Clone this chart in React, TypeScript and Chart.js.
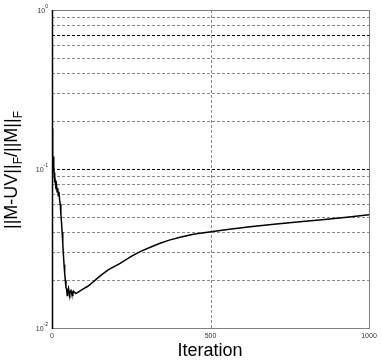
import React, { useEffect, useRef } from "react";
import { Chart, registerables } from "chart.js";

Chart.register(...registerables);

const ITERATIONS = [
  0, 1, 2, 3, 4, 5, 6, 7, 8, 9, 10, 12, 14, 16, 18, 20, 22, 24, 26, 28, 30, 32, 34, 36, 38, 40,
  42, 44, 46, 48, 50, 52, 54, 56, 58, 60, 62, 64, 66, 68, 70, 75, 80, 90, 100, 113, 130, 151,
  177, 215, 250, 278, 310, 341, 370, 404, 450, 502, 560, 625, 700, 782, 860, 930, 1000,
];
const ERRORS = [
  0.18, 0.13, 0.16, 0.11, 0.12, 0.095, 0.105, 0.09, 0.095, 0.082, 0.085, 0.078, 0.08, 0.072,
  0.076, 0.068, 0.072, 0.064, 0.06, 0.052, 0.046, 0.04, 0.034, 0.029, 0.025, 0.022, 0.02, 0.018,
  0.0175, 0.016, 0.0172, 0.0178, 0.0168, 0.0163, 0.017, 0.0172, 0.0165, 0.016, 0.0166, 0.017,
  0.0168, 0.0165, 0.0167, 0.0172, 0.0177, 0.0183, 0.0195, 0.0212, 0.0232, 0.0255, 0.0282,
  0.0302, 0.0322, 0.0341, 0.0357, 0.0372, 0.039, 0.0403, 0.0418, 0.0434, 0.045, 0.0466, 0.0482,
  0.0498, 0.0515,
];
const X_TICKS = [0, 500, 1000];
const Y_EXPONENTS = [0, -1, -2];
const Y_GRID = [
  0.02, 0.03, 0.04, 0.05, 0.06, 0.07, 0.08, 0.09, 0.1, 0.2, 0.3, 0.4, 0.5, 0.6, 0.7, 0.8, 0.9,
];
const Y_DARK = [0.1, 0.7];
const X_GRID = [500];
const X_TITLE = "Iteration";

const FONT = '"Liberation Sans", Arial, sans-serif';

const decor = {
  id: "decor",
  beforeDatasetsDraw(chart: any) {
    const ctx = chart.ctx as CanvasRenderingContext2D;
    const a = chart.chartArea;
    const xs = chart.scales.x;
    const ys = chart.scales.y;
    ctx.save();
    ctx.lineWidth = 1;
    for (const v of Y_GRID) {
      const y = Math.round(ys.getPixelForValue(v)) + 0.5;
      const dark = Y_DARK.includes(v);
      ctx.strokeStyle = dark ? "#000000" : "#8a8a8a";
      ctx.setLineDash(dark ? [3, 2] : [3, 2]);
      ctx.beginPath();
      ctx.moveTo(a.left, y);
      ctx.lineTo(a.right, y);
      ctx.stroke();
    }
    for (const v of X_GRID) {
      const x = Math.round(xs.getPixelForValue(v)) + 0.5;
      ctx.strokeStyle = "#8a8a8a";
      ctx.setLineDash([3, 2]);
      ctx.beginPath();
      ctx.moveTo(x, a.top);
      ctx.lineTo(x, a.bottom);
      ctx.stroke();
    }
    ctx.restore();
  },
  afterDraw(chart: any) {
    const ctx = chart.ctx as CanvasRenderingContext2D;
    const a = chart.chartArea;
    const xs = chart.scales.x;
    const ys = chart.scales.y;
    ctx.save();
    // frame
    ctx.setLineDash([]);
    ctx.lineWidth = 1;
    ctx.strokeStyle = "#808080";
    ctx.strokeRect(Math.round(a.left) + 0.5, Math.round(a.top) + 0.5, Math.round(a.right - a.left), Math.round(a.bottom - a.top));
    ctx.strokeStyle = "#000000";
    ctx.lineWidth = 1.5;
    ctx.beginPath();
    ctx.moveTo(Math.round(a.left) + 0.5, a.top);
    ctx.lineTo(Math.round(a.left) + 0.5, a.bottom + 1);
    ctx.stroke();

    // x tick labels
    ctx.fillStyle = "#333333";
    ctx.font = `7px ${FONT}`;
    ctx.textAlign = "center";
    ctx.textBaseline = "middle";
    for (const v of X_TICKS) {
      ctx.fillText(String(v), xs.getPixelForValue(v), 336);
    }
    // y tick labels 10^n
    for (const e of Y_EXPONENTS) {
      const y = ys.getPixelForValue(Math.pow(10, e));
      const sup = String(e);
      ctx.font = `5px ${FONT}`;
      const sw = ctx.measureText(sup).width;
      ctx.font = `7px ${FONT}`;
      const bw = ctx.measureText("10").width;
      const right = 48;
      ctx.textAlign = "left";
      ctx.textBaseline = "middle";
      ctx.fillText("10", right - sw - bw, y + 1);
      ctx.font = `5px ${FONT}`;
      ctx.fillText(sup, right - sw, y - 3);
    }

    // x title
    ctx.fillStyle = "#000000";
    ctx.font = `18px ${FONT}`;
    ctx.textAlign = "center";
    ctx.textBaseline = "alphabetic";
    ctx.fillText(X_TITLE, 210, 356);

    // y title ||M-UV||_F/||M||_F
    const parts: [string, boolean][] = [
      ["||M-UV||", false],
      ["F", true],
      ["/||M||", false],
      ["F", true],
    ];
    const big = `18px ${FONT}`;
    const small = `12px ${FONT}`;
    let total = 0;
    for (const [t, s] of parts) {
      ctx.font = s ? small : big;
      total += ctx.measureText(t).width;
    }
    ctx.translate(17, 170);
    ctx.rotate(-Math.PI / 2);
    ctx.textAlign = "left";
    let cx = -total / 2;
    for (const [t, s] of parts) {
      ctx.font = s ? small : big;
      ctx.fillText(t, cx, s ? 5 : 0);
      cx += ctx.measureText(t).width;
    }
    ctx.restore();
  },
};

export default function App() {
  const ref = useRef<HTMLCanvasElement | null>(null);
  useEffect(() => {
    if (!ref.current) return;
    const chart = new Chart(ref.current, {
      type: "line",
      data: {
        datasets: [
          {
            data: ITERATIONS.map((x, i) => ({ x, y: ERRORS[i] })),
            borderColor: "#000000",
            borderWidth: 1.5,
            pointRadius: 0,
            tension: 0,
            fill: false,
          },
        ],
      },
      options: {
        animation: false,
        responsive: false,
        events: [],
        layout: { padding: { left: 52, top: 10, right: 13, bottom: 32 } },
        plugins: { legend: { display: false }, tooltip: { enabled: false }, title: { display: false } },
        scales: {
          x: { type: "linear", min: 0, max: 1000, display: false },
          y: { type: "logarithmic", min: 0.01, max: 1, display: false },
        },
      },
      plugins: [decor],
    });
    return () => chart.destroy();
  }, []);
  return (
    <div style={{ position: "absolute", left: 0, top: 0, width: 382, height: 360, background: "#fff" }}>
      <canvas ref={ref} width={382} height={360} style={{ display: "block", width: 382, height: 360 }} />
    </div>
  );
}
